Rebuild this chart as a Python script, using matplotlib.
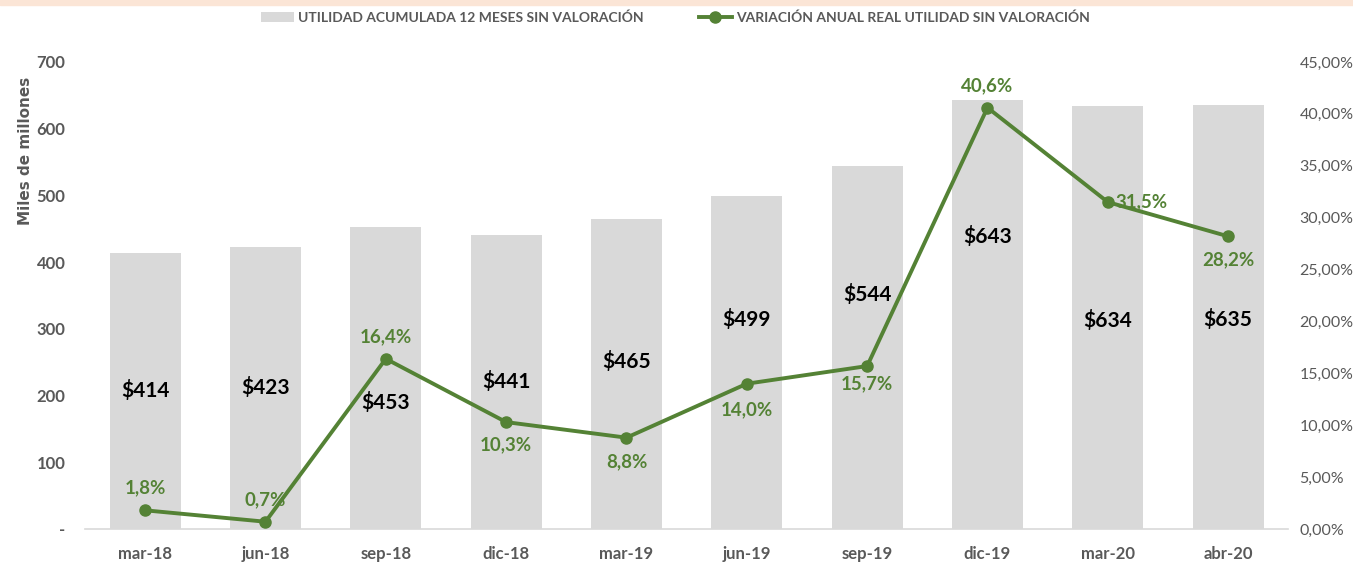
import numpy as np
import matplotlib.pyplot as plt
from matplotlib.ticker import FuncFormatter, MultipleLocator

periodos = ['mar-18', 'jun-18', 'sep-18', 'dic-18', 'mar-19', 'jun-19', 'sep-19', 'dic-19', 'mar-20', 'abr-20']
utilidad = [414, 423, 453, 441, 465, 499, 544, 643, 634, 635]
variacion = [1.8, 0.7, 16.4, 10.3, 8.8, 14.0, 15.7, 40.6, 31.5, 28.2]

nombre_barras = 'UTILIDAD ACUMULADA 12 MESES SIN VALORACIÓN'
nombre_linea = 'VARIACIÓN ANUAL REAL UTILIDAD SIN VALORACIÓN'

verde = '#548235'
gris_barra = '#D9D9D9'
gris_txt = '#595959'
fuente = ['Lato', 'DejaVu Sans']
plt.rcParams['font.family'] = fuente

fig = plt.figure(figsize=(13.53, 5.63), dpi=100)
ax = fig.add_axes([0.0628, 0.0604, 0.8894, 0.8295])
ax2 = ax.twinx()

x = np.arange(len(periodos))
ax.bar(x, utilidad, width=0.59, color=gris_barra, label=nombre_barras, zorder=1)
ax2.plot(x, variacion, color=verde, lw=2.8, marker='o', ms=8, label=nombre_linea, zorder=3)

ax.set_xlim(-0.5, len(periodos) - 0.5)
ax.set_ylim(0, 700)
ax2.set_ylim(0, 45)
ax.yaxis.set_major_locator(MultipleLocator(100))
ax2.yaxis.set_major_locator(MultipleLocator(5))
ax.yaxis.set_major_formatter(FuncFormatter(lambda v, p: '-' if v == 0 else f'{v:.0f}'))
ax2.yaxis.set_major_formatter(FuncFormatter(lambda v, p: f'{v:.2f}%'.replace('.', ',')))

for a in (ax, ax2):
    for s in a.spines.values():
        s.set_visible(False)
ax.spines['bottom'].set_visible(True)
ax.spines['bottom'].set_color('#D9D9D9')
ax.spines['bottom'].set_linewidth(1.2)

ax.set_xticks(x)
ax.set_xticklabels(periodos, fontsize=12, fontweight='bold', color=gris_txt)
ax.tick_params(axis='x', length=0, pad=12)
ax.tick_params(axis='y', length=0, labelsize=12, labelcolor=gris_txt, pad=14)
for t in ax.get_yticklabels():
    t.set_fontweight('bold')
ax2.tick_params(axis='y', length=0, labelsize=11.5, labelcolor=gris_txt, pad=8)

# etiquetas de las barras (algunas desplazadas como en el original)
desp_barras = [0, 0, -18, 0, 9, 31, 38, 56, -2, -2]
for i, v in enumerate(utilidad):
    ax.annotate(f'${v}', (i, v / 2), xytext=(0, desp_barras[i]), textcoords='offset points',
                ha='center', va='center', fontsize=15, fontweight='bold', color='black', zorder=5)

# etiquetas de la línea
desp_linea = [(0, 16), (0, 16), (0, 16), (0, -16), (0, -17), (0, -19), (0, -13), (0, 16), (24, 0), (0, -17)]
for i, v in enumerate(variacion):
    dx, dy = desp_linea[i]
    ax2.annotate(f'{v:.1f}%'.replace('.', ','), (i, v), xytext=(dx, dy), textcoords='offset points',
                 ha='center', va='center', fontsize=13.5, fontweight='bold', color=verde, zorder=6)

fig.text(0.0185, 0.732, 'Miles de millones', rotation=90, ha='center', va='center',
         fontsize=11, fontweight='bold', color=gris_txt, family='DejaVu Sans')

h1, l1 = ax.get_legend_handles_labels()
h2, l2 = ax2.get_legend_handles_labels()
leg = fig.legend(h1 + h2, l1 + l2, loc='upper center', bbox_to_anchor=(0.499, 1.002), ncol=2,
                 frameon=False, columnspacing=4.0, handlelength=2.4, handletextpad=0.25,
                 prop={'size': 10, 'weight': 'bold', 'family': fuente})
for t in leg.get_texts():
    t.set_color(gris_txt)

# franja superior
fig.patches.append(plt.Rectangle((0, 0.991), 1, 0.009, transform=fig.transFigure,
                                 color='#FBE5D6', zorder=0))

fig.savefig('out.png', dpi=100)
